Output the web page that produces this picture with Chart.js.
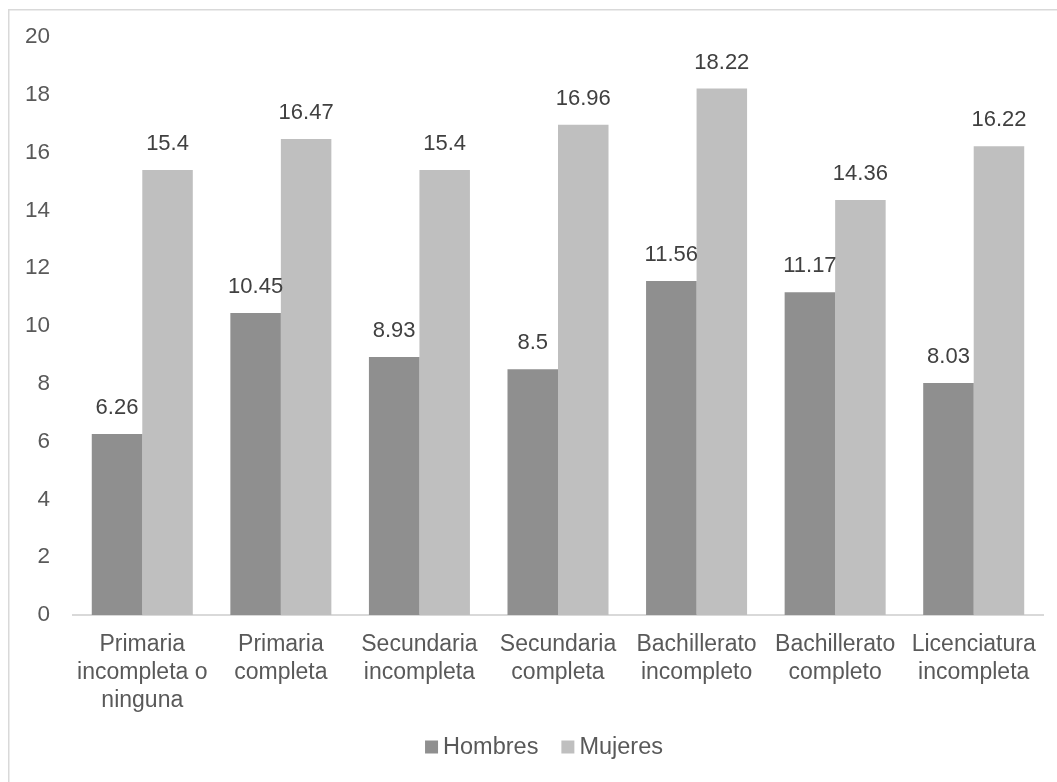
<!DOCTYPE html>
<html>
<head>
<meta charset="utf-8">
<script src="https://cdn.jsdelivr.net/npm/chart.js@4"></script>
<style>
  html, body { margin: 0; padding: 0; background: #ffffff; }
  #wrap { position: relative; width: 1057px; height: 782px; }
</style>
</head>
<body>
<div id="wrap"><canvas id="chart" width="1057" height="782"></canvas></div>
<script>
// Categories (multi-line labels) and series values
const categories = [
  ["Primaria", "incompleta o", "ninguna"],
  ["Primaria", "completa"],
  ["Secundaria", "incompleta"],
  ["Secundaria", "completa"],
  ["Bachillerato", "incompleto"],
  ["Bachillerato", "completo"],
  ["Licenciatura", "incompleta"]
];
const hombres = [6.26, 10.45, 8.93, 8.5, 11.56, 11.17, 8.03];
const mujeres = [15.4, 16.47, 15.4, 16.96, 18.22, 14.36, 16.22];
const yTicks = [0, 2, 4, 6, 8, 10, 12, 14, 16, 18, 20];

const FONT = "'Liberation Sans', Arial, sans-serif";
const TEXT = "#595959";
const COLORS = ["#8f8f8f", "#bfbfbf"];

// Frame around the chart
const framePlugin = {
  id: "frame",
  beforeDraw(chart) {
    const ctx = chart.ctx;
    ctx.save();
    ctx.fillStyle = "#ffffff";
    ctx.fillRect(0, 0, chart.width, chart.height);
    ctx.strokeStyle = "#d9d9d9";
    ctx.lineWidth = 1.5;
    ctx.strokeRect(8.75, 9.75, 1200, 1200);
    ctx.restore();
  }
};

// Value labels above each bar
const valueLabels = {
  id: "valueLabels",
  afterDatasetsDraw(chart) {
    const ctx = chart.ctx;
    ctx.save();
    ctx.font = "22px " + FONT;
    ctx.fillStyle = "#404040";
    ctx.textAlign = "center";
    ctx.textBaseline = "middle";
    chart.data.datasets.forEach((ds, i) => {
      const meta = chart.getDatasetMeta(i);
      meta.data.forEach((bar, j) => {
        ctx.fillText(String(ds.data[j]), bar.x, bar.y - 26);
      });
    });
    ctx.restore();
  }
};

// Compact legend: square swatch, small gap, label
const bottomLegend = {
  id: "bottomLegend",
  afterDraw(chart) {
    const ctx = chart.ctx;
    const box = 13, gap = 5, itemGap = 23;
    ctx.save();
    ctx.font = "23.5px " + FONT;
    const items = chart.data.datasets.map((ds, i) => ({
      label: ds.label, color: COLORS[i], w: ctx.measureText(ds.label).width
    }));
    const total = items.reduce((s, it) => s + box + gap + it.w, 0) + itemGap * (items.length - 1);
    const cx = (chart.chartArea.left + chart.chartArea.right) / 2 - 14;
    const cy = chart.height - 35;
    let x = cx - total / 2;
    ctx.textBaseline = "middle";
    ctx.textAlign = "left";
    items.forEach(it => {
      ctx.fillStyle = it.color;
      ctx.fillRect(x, cy - box / 2, box, box);
      ctx.fillStyle = TEXT;
      ctx.fillText(it.label, x + box + gap, cy + 1);
      x += box + gap + it.w + itemGap;
    });
    ctx.restore();
  }
};

new Chart(document.getElementById("chart"), {
  type: "bar",
  data: {
    labels: categories,
    datasets: [
      { label: "Hombres", data: hombres, backgroundColor: COLORS[0] },
      { label: "Mujeres", data: mujeres, backgroundColor: COLORS[1] }
    ]
  },
  options: {
    responsive: false,
    animation: false,
    devicePixelRatio: 1,
    layout: { padding: { left: 8, right: 14, top: 37, bottom: 55 } },
    datasets: { bar: { categoryPercentage: 0.729, barPercentage: 1.0 } },
    scales: {
      x: {
        grid: { display: false, drawTicks: false },
        border: { display: true, color: "#d9d9d9", width: 2 },
        ticks: { color: TEXT, font: { family: FONT, size: 23, lineHeight: 1.22 }, padding: 16, maxRotation: 0, autoSkip: false },
        afterFit(scale) { scale.height = 112; }
      },
      y: {
        min: 0,
        max: 20,
        afterBuildTicks(scale) { scale.ticks = yTicks.map(v => ({ value: v })); },
        grid: { display: false, drawTicks: false },
        border: { display: false },
        ticks: { color: TEXT, font: { family: FONT, size: 22.5 }, padding: 23 },
        afterFit(scale) { scale.width = 65; }
      }
    },
    plugins: {
      legend: { display: false },
      tooltip: { enabled: false }
    }
  },
  plugins: [framePlugin, valueLabels, bottomLegend]
});
</script>
</body>
</html>
